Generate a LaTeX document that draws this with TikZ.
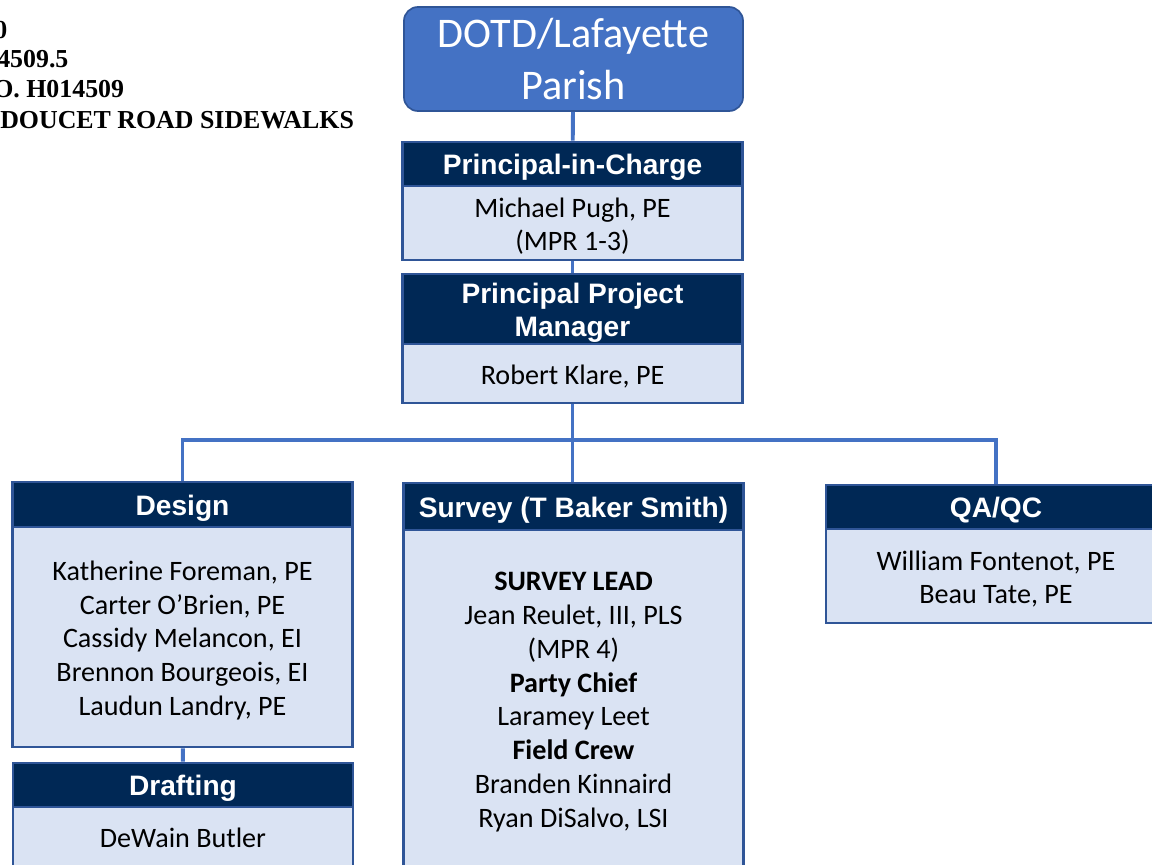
\documentclass[tikz,border=0pt]{standalone}
\usepackage{fontspec}
\setmainfont{Carlito}
\newfontfamily\headfont{Liberation Sans}
\newfontfamily\infofont{Liberation Serif}
\definecolor{navy}{HTML}{002855}
\definecolor{lightblue}{HTML}{DAE3F3}
\definecolor{midblue}{HTML}{4472C4}
\definecolor{edgeblue}{HTML}{2F5597}

\tikzset{
  boxtext/.style={align=center, inner sep=0pt, minimum width=8.5cm,
    execute at begin node={\rule{0pt}{\dimexpr24pt*#1-3.5pt\relax}},
    execute at end node={\rule[-5pt]{0pt}{5pt}}},
  head/.style={boxtext=#1, draw=edgeblue, line width=2pt, fill=navy, text=white,
    font=\headfont\bfseries\fontsize{20}{24}\selectfont},
  head/.default=1,
  body/.style={boxtext=#1, draw=edgeblue, line width=2pt, fill=lightblue,
    font=\fontsize{20}{24}\selectfont},
  body/.default=1,
  conn/.style={midblue, line width=2.8pt},
  info/.style={anchor=base west, inner sep=0pt,
    font=\infofont\bfseries\fontsize{18.4}{21}\selectfont}
}

\begin{document}
\begin{tikzpicture}[x=0.025cm, y=-0.025cm]

\useasboundingbox (0,0) rectangle (1152,864);
\clip (0,0) rectangle (1152,864);

% project info (cut at the left edge)
\node[info] (info1) at (-6,38) {0};
\node[info] (info2) at (-3,67) {4509.5};
\node[info] (info3) at (-7,97) {O. H014509};
\node[info] (info4) at (0,128) {DOUCET ROAD SIDEWALKS};

% client
\node[draw=edgeblue, line width=1.2pt, fill=midblue, text=white,
      rounded corners=0.35cm, minimum width=8.475cm, minimum height=2.6cm,
      align=center, font=\fontsize{30}{36.5}\selectfont]
      (dotd) at (573.5,59) {DOTD/Lafayette\\Parish};

% principal in charge
\node[head, minimum height=1.1cm] (pich) at (572.5,164) {Principal-in-Charge};
\node[body=2, minimum height=1.85cm] (picb) at (572.5,223) {Michael Pugh, PE\\(MPR 1-3)};

% project manager
\node[head=2, minimum height=1.75cm] (ppmh) at (572.5,309) {Principal Project\\Manager};
\node[body, minimum height=1.475cm] (ppmb) at (572.5,373.5) {Robert Klare, PE};

% design
\node[head, minimum height=1.125cm] (desh) at (182.5,504.5) {Design};
\node[body=5, minimum height=5.5cm] (desb) at (182.5,637)
  {Katherine Foreman, PE\\Carter O’Brien, PE\\Cassidy Melancon, EI\\Brennon Bourgeois, EI\\Laudun Landry, PE};

% drafting
\node[head, minimum height=1.1cm] (drah) at (183,785) {Drafting};
\node[body, minimum height=1.5cm] (drab) at (183,837) {DeWain Butler};

% survey (body first, header on top of it)
\node[body=8, minimum height=8.45cm] (surb) at (573.5,698)
  {\textbf{SURVEY LEAD}\\Jean Reulet, III, PLS\\(MPR 4)\\\textbf{Party Chief}\\Laramey Leet\\\textbf{Field Crew}\\Branden Kinnaird\\Ryan DiSalvo, LSI};
\node[head, minimum height=1.175cm] (surh) at (573.5,506.5) {Survey (T Baker Smith)};

% qa/qc
\node[head, minimum height=1.1cm] (qah) at (996,507) {QA/QC};
\node[body=2, minimum height=2.35cm] (qab) at (996,576) {William Fontenot, PE\\Beau Tate, PE};

% connectors
\coordinate (bus) at (572.5,440);
\draw[conn] (dotd) -- (pich);
\draw[conn] (picb) -- (ppmh);
\draw[conn] (ppmb) -- (bus);
\draw[conn] (desh.north) |- (bus) -| (qah.north);
\draw[conn] (bus) -- (bus |- surh.north);
\draw[conn] (desb) -- (drah);

\end{tikzpicture}
\end{document}
